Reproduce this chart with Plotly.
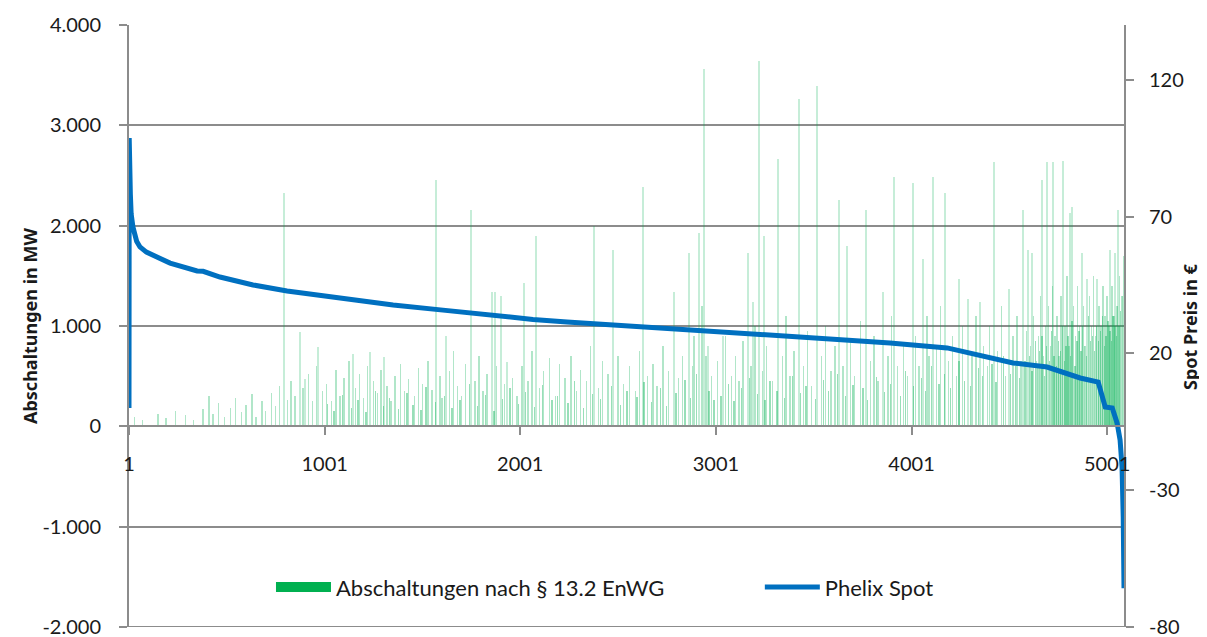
import plotly.graph_objects as go

# --- Phelix spot price, sorted (duration curve) ---
price_idx = [1, 2, 4, 8, 12, 21, 40, 57, 90, 124, 211, 349, 380, 466, 635, 809, 977,
             1095, 1351, 1606, 1780, 1949, 2066, 2240, 2409, 2578, 2751, 2920, 3212,
             3549, 3891, 4183, 4352, 4520, 4694, 4776, 4863, 4955, 4970, 4991, 5027,
             5052, 5067, 5077, 5083, 5087]
price_eur = [0.0, 98.7, 90.0, 78.0, 71.0, 66.2, 61.0, 58.9, 57.0, 55.9, 53.0, 50.1, 50.0,
             47.9, 45.0, 42.8, 41.3, 39.9, 37.7, 35.8, 34.4, 32.9, 32.4, 31.5, 30.7, 30.0,
             29.3, 28.2, 27.1, 25.6, 23.8, 22.0, 19.4, 16.5, 15.0, 13.2, 11.0, 9.5, 5.0,
             0.4, 0.0, -5.5, -11.7, -21.5, -39.8, -65.8]

# --- Abschaltungen (MW): tall single spikes ---
spike_idx = [793, 875, 900, 967, 1146, 1233, 1305, 1570, 1622, 1749, 1857, 1872, 1903,
             1933, 2020, 2082, 2378, 2475, 2629, 2787, 2864, 2915, 2941, 2961, 3038,
             3165, 3191, 3222, 3247, 3319, 3426, 3518, 3631, 3672, 3769, 3856, 3912,
             4009, 4060, 4111, 4173, 4244, 4290, 4352, 4423, 4500, 4572, 4597, 4618,
             4669, 4694, 4725, 4776, 4812, 4822, 4873, 4899, 4950, 5016, 5042, 5057]
spike_mw = [2330, 940, 470, 790, 720, 740, 690, 2460, 900, 2160, 1340, 1340, 1300,
            640, 1430, 1900, 2000, 1760, 2390, 1340, 1730, 1930, 3560, 800, 900,
            1730, 1240, 3640, 1900, 2660, 3260, 3390, 2260, 1800, 2160, 1340, 2490,
            2430, 1665, 2490, 2330, 1465, 1270, 1240, 2630, 1365, 2160, 1760, 1730,
            2460, 2630, 2630, 2640, 2130, 2190, 1730, 1465, 1465, 1760, 1730, 2160]

# --- Abschaltungen (MW): medium background bars ---
bg_idx = [30, 70, 150, 190, 240, 290, 330, 380, 410, 430, 460, 490, 520, 545, 575, 600,
          630, 650, 680, 700, 730, 750, 770, 810, 830, 850, 890, 920, 940, 960, 990,
          1010, 1035, 1060, 1080, 1100, 1125, 1160, 1180, 1200, 1220, 1250, 1270, 1290,
          1320, 1340, 1360, 1390, 1410, 1430, 1460, 1480, 1500, 1530, 1550, 1590, 1600,
          1640, 1660, 1680, 1700, 1720, 1770, 1790, 1810, 1830, 1880, 1920, 1960, 1985,
          2010, 2040, 2060, 2100, 2120, 2150, 2180, 2200, 2230, 2260, 2290, 2310, 2340,
          2360, 2400, 2420, 2450, 2500, 2530, 2560, 2590, 2610, 2650, 2680, 2700, 2730,
          2760, 2810, 2830, 2880, 2890, 2930, 2950, 2980,
          3010, 3050, 3080, 3100, 3120, 3140, 3180, 3200, 3240, 3260, 3290, 3340, 3360,
          3380, 3400, 3450, 3470, 3490, 3540, 3560, 3590, 3610, 3650, 3690, 3710, 3740,
          3790, 3810, 3830, 3880, 3900, 3930, 3960, 3980,
          4020, 4040, 4080, 4090, 4130, 4150, 4190, 4210, 4230, 4260, 4310, 4330, 4370,
          4390, 4400, 4440, 4460, 4480, 4520, 4540, 4560, 4590,
          4610, 4625, 4640, 4650, 4660, 4675, 4685, 4700, 4710, 4720, 4735, 4745, 4755,
          4765, 4785, 4795, 4805, 4830, 4840, 4850, 4860, 4880, 4890, 4910, 4920, 4930,
          4940, 4960, 4970, 4980, 4990, 5000, 5010, 5025, 5035, 5050, 5065, 5075, 5085]
bg_mw = [90, 60, 120, 80, 150, 110, 60, 170, 300, 120, 230, 90, 180, 280, 140, 210,
         320, 90, 250, 150, 330, 200, 400, 260, 450, 300, 380, 520, 250, 600, 350,
         420, 250, 560, 300, 480, 650, 380, 520, 280, 600, 450, 330, 560,
         400, 250, 500, 620, 350, 470, 300, 580, 420, 650, 360, 500, 280,
         550, 750, 400, 300, 620, 450, 700, 350, 520, 600, 420, 480, 300,
         600, 450, 750, 380, 550, 680, 300, 620, 480, 700, 350, 560, 450,
         800, 380, 650, 520, 700, 420, 600, 350, 750, 500, 620, 400, 800,
         550, 480, 700, 600, 900, 1200, 700, 500,
         650, 900, 500, 700, 450, 850, 600, 1000, 550, 800, 450, 700, 1100,
         500, 750, 600, 950, 400, 700, 1000, 550, 800, 600, 850, 500, 1050,
         650, 900, 450, 700, 1100, 600, 800, 500,
         900, 600, 1100, 700, 800, 1200, 650, 900, 500, 1000, 700, 1100, 800,
         600, 1000, 750, 1200, 500, 900, 1100, 650, 950,
         800, 1100, 650, 900, 1300, 700, 1000, 1200, 800, 1400, 900, 1100, 700,
         1300, 1000, 1500, 800, 1200, 900, 1400, 1000, 1200, 800, 1300, 1000, 1500,
         900, 1200, 1000, 1400, 1100, 1300, 1000, 1400, 1100, 1200, 1500, 1300, 1700]

# --- Abschaltungen (MW): low, dense bars ---
low_idx = [1015, 1048, 1092, 1138, 1172, 1213, 1262, 1301, 1333, 1377,
           1421, 1452, 1493, 1518, 1567, 1613, 1652, 1693, 1742, 1783,
           1822, 1866, 1911, 1948, 1993, 2027, 2072, 2113, 2163, 2191,
           2244, 2277, 2323, 2371, 2412, 2466, 2512, 2547, 2597, 2633,
           2671, 2717, 2748, 2797, 2842, 2871, 2903, 2966, 2991,
           3027, 3066, 3093, 3131, 3172, 3214, 3252, 3277, 3313, 3352,
           3391, 3433, 3462, 3511, 3552, 3577, 3623, 3662, 3701, 3753,
           3777, 3823, 3862, 3893, 3943, 3971, 4011, 4053, 4071, 4103,
           4142, 4168, 4201, 4243, 4272, 4301, 4343, 4362, 4412, 4433,
           4471, 4508, 4531, 4553, 4581,
           4603, 4617, 4633, 4645, 4656, 4668, 4681, 4692, 4705, 4716,
           4728, 4741, 4751, 4761, 4772, 4781, 4791, 4801, 4812, 4821,
           4836, 4846, 4856, 4866, 4875, 4886, 4896, 4905, 4915, 4926,
           4936, 4946, 4955, 4965, 4976, 4986, 4995, 5005, 5015, 5021,
           5030, 5040, 5046, 5055, 5061, 5070, 5080]
low_mw = [220, 150, 310, 180, 260, 140, 350, 200, 280, 170,
          330, 210, 160, 390, 240, 300, 180, 260, 420, 200,
          310, 150, 270, 380, 220, 340, 190, 410, 260, 300,
          230, 450, 180, 320, 270, 400, 210, 350, 290, 440,
          240, 380, 200, 330, 460, 280, 520, 350, 260,
          300, 420, 250, 380, 480, 320, 260, 450, 350, 280,
          500, 330, 400, 270, 460, 350, 520, 300, 410, 380,
          260, 490, 340, 420, 300, 550, 400, 480, 350, 600,
          420, 520, 380, 650, 450, 400, 580, 500, 620, 440,
          700, 520, 600, 480, 650,
          700, 550, 850, 600, 750, 900, 500, 800, 650, 950,
          700, 600, 850, 750, 1000, 650, 800, 900, 700, 1050,
          600, 850, 950, 750, 1000, 800, 700, 1100, 850, 900,
          750, 1000, 850, 950, 1100, 800, 900, 1050, 950, 850,
          1100, 1000, 900, 1200, 1000, 1150, 1300]

# axis ticks
x_ticks = [1, 1001, 2001, 3001, 4001, 5001]
y_ticks = [-2000, -1000, 0, 1000, 2000, 3000, 4000]
y_text = ["-2.000", "-1.000", "0", "1.000", "2.000", "3.000", "4.000"]
y2_ticks = [-80, -30, 20, 70, 120]
y2_text = ["-80", "-30", "20", "70", "120"]

GREEN = "#00B050"
BLUE = "#0070C0"
GRID = "#8C8C8C"
FONT = "Lato"
TITLE_FONT = "Noto Sans"

fig = go.Figure()

# bars: thin and translucent so that overlaps darken like in the original
for xs, ys, op in [(spike_idx, spike_mw, 0.22), (bg_idx, bg_mw, 0.3), (low_idx, low_mw, 0.4)]:
    fig.add_trace(go.Bar(
        x=xs, y=ys, width=2,
        marker=dict(color=GREEN, line=dict(width=0)),
        opacity=op, showlegend=False, hoverinfo="skip"
    ))

# legend stand-in for the bars (thick line gives the wide green swatch)
fig.add_trace(go.Scatter(
    x=[None], y=[None], mode="lines", name="Abschaltungen nach § 13.2 EnWG",
    line=dict(color=GREEN, width=16), legend="legend"
))

# price line on right axis
fig.add_trace(go.Scatter(
    x=price_idx, y=price_eur, yaxis="y2",
    mode="lines", name="Phelix Spot",
    line=dict(color=BLUE, width=5), legend="legend2"
))

leg = dict(orientation="h", y=0.066, xanchor="left", yanchor="middle",
           bgcolor="rgba(0,0,0,0)", font=dict(size=22), itemwidth=55)

# page body has an 8px margin, so the figure is 8px smaller and margins shifted
fig.update_layout(
    width=1199, height=629,
    margin=dict(l=121, r=83, t=17, b=10, autoexpand=False),
    paper_bgcolor="white", plot_bgcolor="white",
    font=dict(family=FONT, size=20, color="#1a1a1a"),
    bargap=0,
    showlegend=True,
    legend=dict(leg, x=0.1427),
    legend2=dict(leg, x=0.634),
    xaxis=dict(
        range=[1, 5087], tickvals=x_ticks, ticktext=[str(t) for t in x_ticks],
        anchor="free", position=1/3, automargin=False,
        showline=True, linecolor=GRID, linewidth=2,
        ticks="outside", ticklen=8, tickcolor=GRID, tickwidth=2,
        showgrid=False, zeroline=False, ticklabelstandoff=12
    ),
    yaxis=dict(
        range=[-2000, 4000], tickvals=y_ticks, ticktext=y_text, automargin=False,
        showline=True, linecolor=GRID, linewidth=2,
        ticks="outside", ticklen=8, tickcolor=GRID, tickwidth=2,
        showgrid=True, gridcolor=GRID, gridwidth=2, zeroline=False,
        ticklabelstandoff=14, ticklabeloverflow="allow"
    ),
    yaxis2=dict(
        range=[-80, 140], tickvals=y2_ticks, ticktext=y2_text,
        overlaying="y", side="right", automargin=False,
        showline=True, linecolor=GRID, linewidth=2,
        ticks="outside", ticklen=8, tickcolor=GRID, tickwidth=2,
        showgrid=False, zeroline=False, ticklabelstandoff=11,
        ticklabeloverflow="allow"
    ),
    annotations=[
        dict(text="<b>Abschaltungen in MW</b>", textangle=-90, showarrow=False,
             xref="paper", yref="paper", x=-0.0995, y=0.5,
             xanchor="center", yanchor="middle",
             font=dict(family=TITLE_FONT, size=18)),
        dict(text="<b>Spot Preis in €</b>", textangle=-90, showarrow=False,
             xref="paper", yref="paper", x=1.0663, y=0.5,
             xanchor="center", yanchor="middle",
             font=dict(family=TITLE_FONT, size=18)),
    ]
)

# bottom gridline at -2.000 (plot frame edge)
fig.add_shape(type="line", xref="paper", x0=0, x1=1, yref="y",
              y0=y_ticks[0], y1=y_ticks[0], line=dict(color=GRID, width=2))

fig.write_html("out.html")
